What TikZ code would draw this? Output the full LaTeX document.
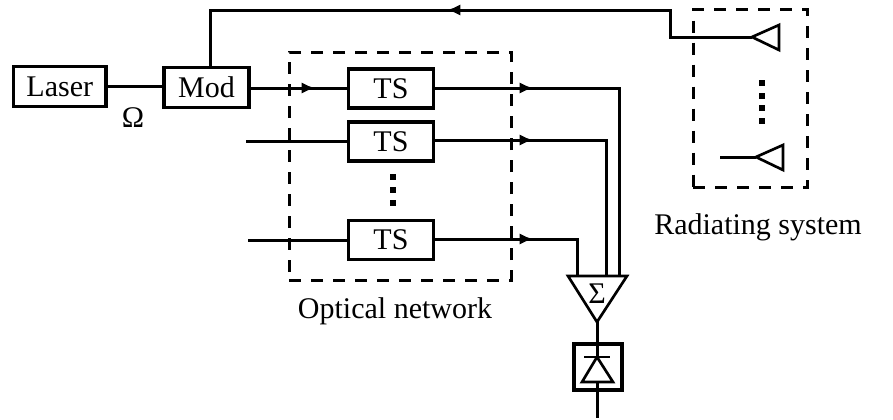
\documentclass[tikz,border=0pt]{standalone}
\usepackage{fontspec}
\setmainfont{Liberation Serif}
\usetikzlibrary{arrows.meta,calc}
\tikzstyle{block}=[rectangle,draw,line width=2.7pt,inner sep=0pt,font=\fontsize{22.5pt}{24pt}\selectfont]
\tikzstyle{edge} = [draw,line width=2.25pt,line join=miter]
\tikzstyle{flow} = [draw,line width=2.25pt,-{Latex[length=10pt,width=8.5pt]}]
\tikzstyle{region} = [draw,line width=2.25pt,dash pattern=on 9pt off 7.5pt]
\tikzstyle{horn} = [draw,line width=2pt,line join=miter]
\tikzstyle{dot} = [rectangle,fill=black,minimum size=4.5pt,inner sep=0pt]
\tikzstyle{caption} = [font=\fontsize{22.5pt}{24pt}\selectfont]

\begin{document}
\begin{tikzpicture}[x=0.75pt,y=-0.75pt]
    \useasboundingbox (0,0) rectangle (893,419);

    % First we draw the blocks
    \node[block,minimum width=69.4pt,minimum height=30pt] (Laser) at (59.75,86.5) {Laser};
    \node[block,minimum width=63.8pt,minimum height=30pt] (Mod) at (206.5,87.5) {Mod};
    \foreach \pos/ \name in {{(391,88.5)/TSa},{(391,141.5)/TSb},{(391,240)/TSc}}
        \node[block,minimum width=64pt,minimum height=29.5pt] (\name) at \pos {TS};
    \node[caption] (Omega) at (133,118) {Ω};
    \node[caption] (Optical) at (395,311) {Optical network};
    \node[caption] (Radiating) at (758,227) {Radiating system};

    % The dashed regions
    \node[region,minimum width=166.5pt,minimum height=171pt,inner sep=0pt] (OptNet) at (400,166) {};
    \node[region,minimum width=85.5pt,minimum height=134pt,inner sep=0pt] (RadSys) at (750,98.5) {};

    % Dots
    \foreach \y/ \name in {177/a,190/b,203/c}
        \node[dot] (TSdot\name) at (393,\y) {};
    \foreach \y/ \name in {83/a,96/b,108/c,121/d}
        \node[dot] (Raddot\name) at (762,\y) {};

    % Points where the lines turn or end
    \coordinate (HornTipA) at (752,37);
    \coordinate (HornTipB) at (756,157);
    \coordinate (FeedB) at (720,157);
    \coordinate (TurnA) at (670.5,37);
    \coordinate (TurnB) at (670.5,10);
    \coordinate (BackFrom) at (532,10);
    \coordinate (BackTip) at (447,10);
    \coordinate (TurnC) at (210,10);
    \coordinate (MidFrom) at (270,88);
    \coordinate (MidMod) at (315,88);
    \coordinate (InB) at (246,141);
    \coordinate (InC) at (248,240);
    \foreach \y/ \name in {88/a,140/b,239/c} {
        \coordinate (From\name) at (488,\y);
        \coordinate (Tip\name) at (533,\y);
    }
    \coordinate (CornerA) at (619,88);
    \coordinate (CornerB) at (606,140);
    \coordinate (CornerC) at (577,239);
    \coordinate (SumA) at (619,276);
    \coordinate (SumB) at (606,276);
    \coordinate (SumC) at (577,276);
    \coordinate (SumApex) at (597,322);
    \coordinate (Output) at (597,418);

    % Summing triangle and the two horns
    \draw[horn] (568,276) -- (627,276) -- (SumApex) -- cycle;
    \node[caption] (Sum) at (597,294) {Σ};
    \draw[horn] (HornTipA) -- (779,25) -- (779,50) -- cycle;
    \draw[horn] (HornTipB) -- (783,145) -- (783,170) -- cycle;

    % Detector
    \node[block,line width=3.2pt,minimum width=36pt,minimum height=34.5pt] (Det) at (598,367) {};
    \coordinate (DiodeTop) at (597,357);
    \coordinate (DiodeBase) at (597,382);
    \draw[horn] (DiodeTop) -- (613,382) -- (582,382) -- cycle;
    \draw[horn] (584,357) -- (610,357);

    % Connect the blocks
    \path[edge] (Laser.east) -- (Laser.east -| Mod.west);
    \path[edge] (HornTipA) -- (TurnA) -- (TurnB) -- (TurnC) -- (TurnC |- Mod.north);
    \path[flow] (BackFrom) -- (BackTip);
    \path[edge] (FeedB) -- (HornTipB);
    \path[edge] (Mod.east |- MidMod) -- (MidMod -| TSa.west);
    \path[flow] (MidFrom) -- (MidMod);
    \path[edge] (InB) -- (InB -| TSb.west);
    \path[edge] (InC) -- (InC -| TSc.west);
    \path[edge] (Tipa -| TSa.east) -- (CornerA) -- (SumA);
    \path[edge] (Tipb -| TSb.east) -- (CornerB) -- (SumB);
    \path[edge] (Tipc -| TSc.east) -- (CornerC) -- (SumC);
    \foreach \name in {a,b,c}
        \path[flow] (From\name) -- (Tip\name);
    \path[edge] (SumApex) -- (DiodeTop);
    \path[edge] (DiodeBase) -- (Output);
\end{tikzpicture}
\end{document}
